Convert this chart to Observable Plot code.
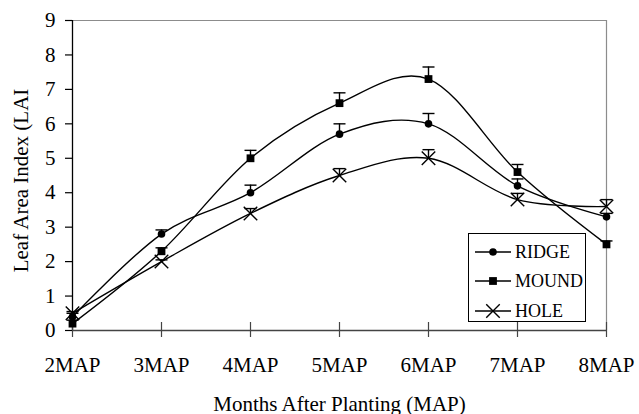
<!DOCTYPE html>
<html>
<head>
<meta charset="utf-8">
<script src="https://cdn.jsdelivr.net/npm/d3@7"></script>
<script src="https://cdn.jsdelivr.net/npm/@observablehq/plot@0.6"></script>
<style>
  body { margin: 0; background: white; }
  #wrap { position: relative; width: 639px; height: 414px; font-family: "Liberation Serif", "Times New Roman", serif; }
  #legend { position: absolute; left: 468px; top: 233px; width: 118px; height: 89px; border: 1px solid #000; background: white; box-sizing: border-box; }
  .item { position: absolute; left: 0; height: 20px; display: flex; align-items: center; font-size: 18px; }
  .item svg { margin-left: 6px; margin-right: 4px; }
</style>
</head>
<body>
<div id="wrap"><div id="chart"></div><div id="legend"></div></div>
<script>
const months = ["2MAP", "3MAP", "4MAP", "5MAP", "6MAP", "7MAP", "8MAP"];
const seriesNames = ["RIDGE", "MOUND", "HOLE"];
const ridge = [0.4, 2.8, 4.0, 5.7, 6.0, 4.2, 3.3];
const mound = [0.2, 2.3, 5.0, 6.6, 7.3, 4.6, 2.5];
const hole = [0.5, 2.0, 3.4, 4.5, 5.0, 3.8, 3.6];
const ridgeUpper = [0.5, 2.92, 4.22, 6.0, 6.3, 4.4, 3.4];
const moundUpper = [0.3, 2.4, 5.23, 6.9, 7.65, 4.82, 2.6];
const holeUpper = [0.55, 2.05, 3.54, 4.7, 5.25, 3.98, 3.8];
const yTicks = [0, 1, 2, 3, 4, 5, 6, 7, 8, 9];
const xTitle = "Months After Planting (MAP)";
const yTitle = "Leaf Area Index (LAI";

const values = [ridge, mound, hole];
const uppers = [ridgeUpper, moundUpper, holeUpper];
const rows = [];
seriesNames.forEach((s, i) => months.forEach((m, j) => rows.push({series: s, month: m, value: values[i][j], upper: uppers[i][j]})));
const bySeries = s => rows.filter(d => d.series === s);

const capSymbol = {draw(ctx) { ctx.moveTo(-6, 0); ctx.lineTo(6, 0); }};
const symbols = {RIDGE: "circle", MOUND: "square", HOLE: "times"};
const sizes = {RIDGE: 3.8, MOUND: 4.4, HOLE: 6.2};

const chart = Plot.plot({
  width: 639,
  height: 414,
  marginLeft: 72,
  marginRight: 33,
  marginTop: 20,
  marginBottom: 84,
  style: {fontFamily: "Liberation Serif, Times New Roman, serif", fontSize: "21px", background: "white", color: "black"},
  x: {type: "point", domain: months, padding: 0},
  y: {domain: [0, 9]},
  marks: [
    Plot.ruleY([9], {stroke: "#8c8c8c", strokeWidth: 1.2}),
    Plot.ruleX(["8MAP"], {stroke: "#8c8c8c", strokeWidth: 1.2}),
    Plot.ruleY([0], {stroke: "#444", strokeWidth: 1.3}),
    Plot.ruleX(["2MAP"], {stroke: "#000", strokeWidth: 1.3}),
    Plot.tickX(months, {x: d => d, stroke: "#444", strokeWidth: 1.2, insetTop: 302, insetBottom: -7}),
    Plot.axisY({ticks: yTicks, tickSize: 7, tickPadding: 10, label: null, fontSize: 21, stroke: "#000", strokeWidth: 1.2}),
    Plot.axisX({tickSize: 0, tickPadding: 27, label: null, fontSize: 21}),
    Plot.text([xTitle], {frameAnchor: "bottom", dy: 80, lineAnchor: "bottom", textAnchor: "middle", fontSize: 21}),
    Plot.text([yTitle], {frameAnchor: "left", rotate: -90, dx: -51, dy: 5, lineAnchor: "middle", textAnchor: "middle", fontSize: 21}),
    ...seriesNames.map(s => Plot.line(bySeries(s), {x: "month", y: "value", curve: "cardinal", tension: 0, stroke: "#000", strokeWidth: 1.4})),
    Plot.ruleX(rows, {x: "month", y1: "value", y2: "upper", stroke: "#000", strokeWidth: 1.4}),
    Plot.dot(rows, {x: "month", y: "upper", symbol: capSymbol, stroke: "#000", strokeWidth: 1.4, fill: "none"}),
    ...seriesNames.map(s => Plot.dot(bySeries(s), {x: "month", y: "value", symbol: symbols[s], r: sizes[s], fill: s === "HOLE" ? "none" : "#000", stroke: "#000", strokeWidth: s === "HOLE" ? 1.4 : 0}))
  ]
});
document.getElementById("chart").appendChild(chart);

// Legend
const legend = document.getElementById("legend");
const legendTop = [8, 37, 67];
seriesNames.forEach((s, i) => {
  const item = document.createElement("div");
  item.className = "item";
  item.style.top = legendTop[i] + "px";
  const sym = d3.symbol().type(s === "RIDGE" ? d3.symbolCircle : s === "MOUND" ? d3.symbolSquare : d3.symbolTimes)
    .size(Math.PI * sizes[s] * sizes[s])();
  item.innerHTML = `<svg width="36" height="20"><line x1="0" x2="36" y1="10" y2="10" stroke="#000" stroke-width="1.4"/>` +
    `<path transform="translate(18,10)" d="${sym}" fill="${s === "HOLE" ? "none" : "#000"}" stroke="#000" stroke-width="${s === "HOLE" ? 1.4 : 0}"/></svg><span>${s}</span>`;
  legend.appendChild(item);
});
</script>
</body>
</html>
